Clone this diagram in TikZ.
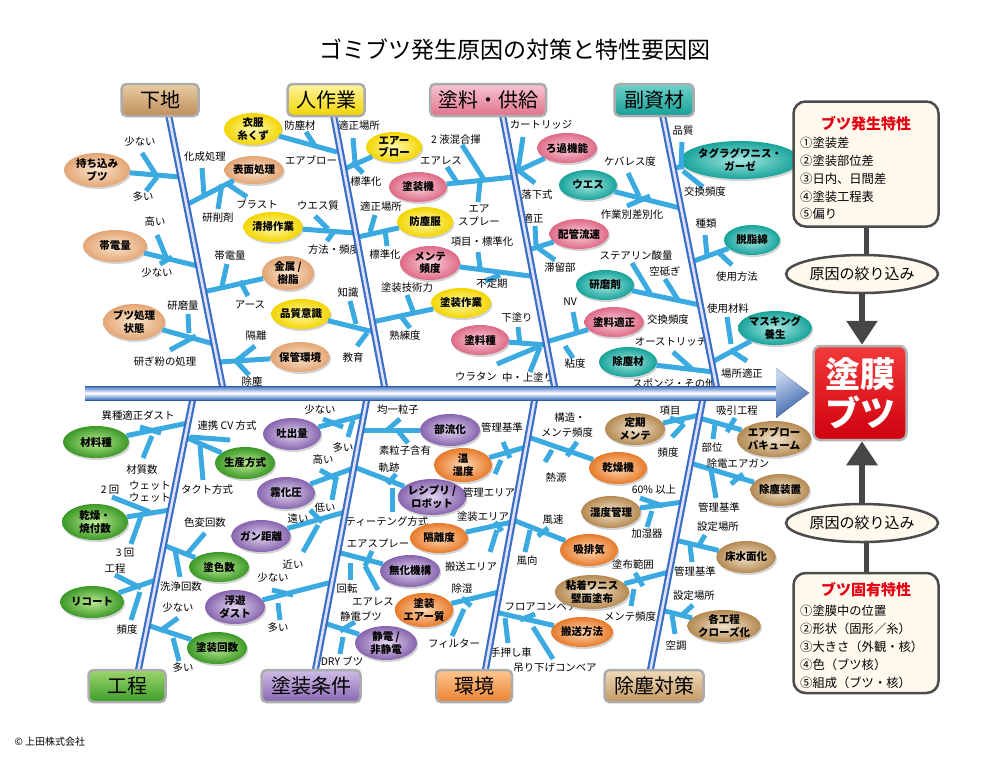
\documentclass[tikz,border=0pt]{standalone}
\usepackage{fontspec}
\setmainfont{Noto Sans CJK JP}
\usetikzlibrary{shapes.geometric,shadows,arrows.meta}
\definecolor{brc}{HTML}{3BAAE1}
\definecolor{bnc}{HTML}{3A6FC4}
\definecolor{peI}{HTML}{FDE6CF}\definecolor{peO}{HTML}{E3A574}
\definecolor{yeI}{HTML}{FFF9B0}\definecolor{yeO}{HTML}{F3D500}
\definecolor{pkI}{HTML}{FAD0DA}\definecolor{pkO}{HTML}{DE6A87}
\definecolor{teI}{HTML}{A6E8E2}\definecolor{teO}{HTML}{17A39A}
\definecolor{grI}{HTML}{BDEB95}\definecolor{grO}{HTML}{3B9826}
\definecolor{puI}{HTML}{E2D5EF}\definecolor{puO}{HTML}{8765AE}
\definecolor{orI}{HTML}{FFD9B5}\definecolor{orO}{HTML}{E77A2A}
\definecolor{brI}{HTML}{F3E3CB}\definecolor{brO}{HTML}{B48A52}
\definecolor{cream}{HTML}{FFF9EE}
\definecolor{titred}{HTML}{E50012}
\definecolor{k1a}{HTML}{E9CCA2}\definecolor{k1b}{HTML}{BF8E5B}
\definecolor{k2a}{HTML}{FFF5A0}\definecolor{k2b}{HTML}{F2D300}
\definecolor{k3a}{HTML}{F8C6D1}\definecolor{k3b}{HTML}{E0718B}
\definecolor{k4a}{HTML}{6ED2CA}\definecolor{k4b}{HTML}{169F96}
\definecolor{k5a}{HTML}{9CD56C}\definecolor{k5b}{HTML}{3E9E29}
\definecolor{k6a}{HTML}{CFBCE5}\definecolor{k6b}{HTML}{8867B2}
\definecolor{k7a}{HTML}{FFC690}\definecolor{k7b}{HTML}{EA8433}
\definecolor{k8a}{HTML}{F0DABB}\definecolor{k8b}{HTML}{C39961}
\definecolor{rda}{HTML}{F23A3A}\definecolor{rdb}{HTML}{D0000F}
\newcounter{lbc}
\newcommand{\Lb}[3]{\stepcounter{lbc}\node[lab] (lb\arabic{lbc}) at (#1,#2) {#3};}
\newcommand{\El}[7]{\node[#2, minimum width=#5pt, minimum height=#6pt] (#1) at (#3,#4) {#7};}
\def\Tk(#1)(#2){\draw[bl] (#1)--(#2);}
\tikzset{
 bl/.style={line width=5pt, draw=brc},
 lab/.style={font=\fontsize{10.4}{12}\selectfont, inner sep=0pt},
 ell/.style 2 args={ellipse, inner sep=0pt, inner color=#1, outer color=#2,
   drop shadow={shadow xshift=1.2pt, shadow yshift=-2pt, opacity=0.35},
   font=\bfseries\fontsize{10.5}{12.5}\selectfont, align=center},
 pe/.style={ell={peI}{peO}}, ye/.style={ell={yeI}{yeO}}, pk/.style={ell={pkI}{pkO}},
 te/.style={ell={teI}{teO}}, gr/.style={ell={grI}{grO}}, pu/.style={ell={puI}{puO}},
 or/.style={ell={orI}{orO}}, br/.style={ell={brI}{brO}},
 bone/.style={draw=bnc, line width=7pt, postaction={draw=white!88!blue, line width=2.6pt}},
 cat/.style 2 args={draw=gray!65, line width=2.5pt, rounded corners=5pt, top color=#1, bottom color=#2,
   minimum height=32pt, font=\fontsize{20}{22}\selectfont, inner sep=2pt},
 item/.style={anchor=west, font=\fontsize{12.3}{14}\selectfont, inner sep=0pt},
 gline/.style={draw=gray!55!black, line width=5pt},
 garr/.style={draw=gray!55!black, line width=6pt, -{Triangle[length=24pt,width=30pt]}},
 hell/.style={ellipse, draw=gray!60!black, line width=2.5pt, fill=cream, minimum width=152pt, minimum height=38pt, font=\fontsize{15}{17}\selectfont, inner sep=0pt},
 pbox/.style={draw=gray!60!black, line width=2.5pt, rounded corners=12pt, fill=cream}
}
\begin{document}
\begin{tikzpicture}[x=1pt,y=-1pt]
\useasboundingbox (0,0) rectangle (1000,756);
\node[font=\fontsize{23}{25}\selectfont] (title) at (515,50) {ゴミブツ発生原因の対策と特性要因図};

% ===== 下地 =====
\El{b1}{pe}{97}{170}{66}{34}{持ち込み\\ブツ}
\draw[bl] (b1) -- (180,177); \Tk(142,153)(156,175) \Tk(146,191)(157,177)
\Lb{140}{142}{少ない}\Lb{143}{197}{多い}
\El{b2}{pe}{115}{246}{64}{32}{帯電量}
\draw[bl] (b2) -- (198,266); \Tk(157,235)(166,257) \Tk(160,264)(172,257)
\Lb{155}{222}{高い}\Lb{157}{273}{少ない}
\El{b3}{pe}{134}{322}{62}{36}{ブツ処理\\状態}
\draw[bl] (b3) -- (214,344); \Tk(188,314)(189,333) \Tk(170,350)(196,336)
\Lb{183}{306}{研磨量}\Lb{165}{362}{研ぎ粉の処理}
\El{b4}{pe}{254}{170}{56}{28}{表面処理}
\draw[bl] (b4) -- (186,205); \Tk(202,168)(204,195) \Tk(222,184)(218,209) \Tk(226,183)(247,197)
\Lb{205}{157}{化成処理}\Lb{257}{204}{ブラスト}\Lb{218}{218}{研削剤}
\El{b5}{pe}{288}{273}{52}{34}{金属 /\\樹脂}
\draw[bl] (b5) -- (203,292); \Tk(222,286)(227,264) \Tk(240,281)(248,296)
\Lb{230}{256}{帯電量}\Lb{250}{305}{アース}
\El{b6}{pe}{300}{357}{58}{30}{保管環境}
\draw[bl] (b6) -- (219,362); \Tk(236,361)(255,346) \Tk(236,361)(249,375)
\Lb{256}{336}{隔離}\Lb{252}{382}{除塵}

% ===== 人作業 =====
\El{b7}{ye}{253}{129}{58}{30}{衣服\\糸くず}
\draw[bl] (b7) -- (337,152); \Tk(306,132)(315,146)
\Lb{300}{126}{防塵材}\Lb{311}{160}{エアブロー}
\El{b8}{ye}{273}{227}{58}{30}{清掃作業}
\draw[bl] (b8) -- (355,233); \Tk(315,216)(328,229) \Tk(327,241)(335,230)
\Lb{318}{206}{ウエス質}\Lb{334}{250}{方法・頻度}
\El{b9}{ye}{301}{314}{58}{30}{品質意識}
\draw[bl] (b9) -- (374,332); \Tk(350,301)(356,324) \Tk(357,346)(367,333)
\Lb{348}{293}{知識}\Lb{353}{358}{教育}
\El{b10}{ye}{394}{147}{56}{30}{エアー\\ブロー}
\draw[bl] (b10) -- (342,170); \Tk(353,138)(355,162) \Tk(352,162)(363,173)
\Lb{359}{126}{適正場所}\Lb{366}{182}{標準化}
\El{b11}{ye}{425}{222}{56}{30}{防塵服}
\draw[bl] (b11) -- (358,237); \Tk(375,215)(370,232) \Tk(385,230)(387,246)
\Lb{381}{207}{適正場所}\Lb{385}{255}{標準化}
\El{b12}{ye}{461}{303}{60}{30}{塗装作業}
\draw[bl] (b12) -- (372,322); \Tk(407,295)(413,311) \Tk(400,315)(410,328)
\Lb{407}{288}{塗装技術力}\Lb{405}{336}{熟練度}

% ===== 塗料・供給 =====
\El{b13}{pk}{418}{187}{58}{30}{塗装機}
\draw[bl] (b13) -- (514,177); \Tk(462,145)(485,181) \Tk(447,167)(458,184) \Tk(480,182)(478,202)
\Lb{456}{140}{2 液混合揮}\Lb{441}{161}{エアレス}\Lb{479}{209}{エア}\Lb{479}{221}{スプレー}
\El{b14}{pk}{430}{263}{60}{34}{メンテ\\頻度}
\draw[bl] (b14) -- (530,276); \Tk(478,252)(480,268) \Tk(485,281)(500,275)
\Lb{482}{242}{項目・標準化}\Lb{492}{284}{不定期}
\El{b15}{pk}{480}{340}{58}{30}{塗料種}
\draw[bl] (b15) -- (547,345); \Tk(518,327)(520,344) \Tk(497,364)(540,346) \Tk(530,372)(540,347)
\Lb{517}{318}{下塗り}\Lb{476}{376}{ウラタン}\Lb{528}{378}{中・上塗り}
\El{b16}{pk}{567}{148}{60}{30}{ろ過機能}
\draw[bl] (b16) -- (513,173); \Tk(523,137)(518,170) \Tk(518,170)(535,183)
\Lb{541}{125}{カートリッジ}\Lb{537}{195}{落下式}
\El{b17}{pk}{579}{234}{58}{30}{配管流速}
\draw[bl] (b17) -- (528,250); \Tk(535,226)(536,245) \Tk(538,248)(555,260)
\Lb{533}{218}{適正}\Lb{560}{268}{滞留部}
\El{b18}{pk}{614}{322}{58}{30}{塗料適正}
\draw[bl] (b18) -- (546,342); \Tk(573,312)(577,333) \Tk(565,346)(573,358)
\Lb{570}{302}{NV}\Lb{575}{364}{粘度}

% ===== 副資材 =====
\El{b19}{te}{588}{185}{58}{30}{ウエス}
\draw[bl] (b19) -- (680,208); \Tk(628,173)(639,196) \Tk(627,206)(650,196)
\Lb{630}{162}{ケバレス度}\Lb{632}{215}{作業別差別化}
\El{b20}{te}{605}{285}{58}{30}{研磨剤}
\draw[bl] (b20) -- (700,305); \Tk(632,263)(650,293) \Tk(665,279)(678,300)
\Lb{636}{256}{ステアリン酸量}\Lb{665}{271}{空砥ぎ}\Lb{668}{320}{交換頻度}
\El{b21}{te}{628}{362}{58}{30}{除塵材}
\draw[bl] (b21) -- (714,372); \Tk(673,352)(692,369)
\Lb{671}{342}{オーストリッチ}\Lb{674}{383}{スポンジ・その他}
\El{b22}{te}{740}{160}{80}{38}{タグラグワニス・\\ガーゼ}
\draw[bl] (b22) -- (672,168); \Tk(682,142)(681,167) \Tk(683,171)(703,187)
\Lb{683}{131}{品質}\Lb{705}{192}{交換頻度}
\El{b23}{te}{752}{240}{56}{30}{脱脂綿}
\draw[bl] (b23) -- (691,262); \Tk(705,235)(707,255) \Tk(717,251)(732,265)
\Lb{706}{224}{種類}\Lb{737}{277}{使用方法}
\El{b24}{te}{775}{328}{60}{34}{マスキング\\養生}
\draw[bl] (b24) -- (712,362); \Tk(727,317)(731,344) \Tk(730,350)(747,361)
\Lb{728}{309}{使用材料}\Lb{742}{374}{場所適正}

% ===== 工程 =====
\El{b25}{gr}{96}{442}{66}{32}{材料種}
\draw[bl] (b25) -- (188,423); \Tk(140,427)(161,433) \Tk(143,458)(152,436)
\Lb{138}{416}{異種適正ダスト}\Lb{142}{470}{材質数}
\El{b26}{gr}{95}{522}{66}{36}{乾燥・\\焼付数}
\draw[bl] (b26) -- (170,510); \Tk(112,497)(150,512) \Tk(131,544)(141,516)
\Lb{110}{490}{2 回}\Lb{150}{486}{ウェット}\Lb{150}{498}{ウェット}\Lb{125}{553}{3 回}
\El{b27}{gr}{92}{602}{64}{32}{リコート}
\draw[bl] (b27) -- (156,580); \Tk(115,575)(141,588) \Tk(131,620)(140,592)
\Lb{115}{569}{工程}\Lb{127}{630}{頻度}
\El{b28}{gr}{245}{463}{60}{32}{生産方式}
\draw[bl] (b28) -- (185,437); \Tk(190,437)(230,440) \Tk(200,446)(203,480)
\Lb{227}{426}{連携 CV 方式}\Lb{207}{490}{タクト方式}
\El{b29}{gr}{219}{567}{60}{30}{塗色数}
\draw[bl] (b29) -- (163,545); \Tk(205,533)(187,554) \Tk(175,550)(180,577)
\Lb{205}{523}{色変回数}\Lb{181}{587}{洗浄回数}
\El{b30}{gr}{217}{648}{60}{32}{塗装回数}
\draw[bl] (b30) -- (147,625); \Tk(178,618)(160,631) \Tk(173,638)(179,661)
\Lb{178}{608}{少ない}\Lb{183}{668}{多い}

% ===== 塗装条件 =====
\El{b31}{pu}{292}{434}{58}{32}{吐出量}
\draw[bl] (b31) -- (364,415); \Tk(323,419)(343,427) \Tk(348,437)(353,420)
\Lb{320}{410}{少ない}\Lb{343}{448}{多い}
\El{b32}{pu}{286}{493}{58}{32}{霧化圧}
\draw[bl] (b32) -- (354,468); \Tk(320,470)(338,480) \Tk(332,500)(336,478)
\Lb{323}{460}{高い}\Lb{325}{508}{低い}
\El{b33}{pu}{261}{536}{58}{32}{ガン距離}
\draw[bl] (b33) -- (345,512); \Tk(310,510)(322,522) \Tk(303,552)(318,525)
\Lb{298}{518}{遠い}\Lb{293}{565}{近い}
\El{b34}{pu}{235}{607}{60}{34}{浮遊\\ダスト}
\draw[bl] (b34) -- (332,582); \Tk(272,590)(293,595) \Tk(278,603)(280,620)
\Lb{273}{578}{少ない}\Lb{278}{628}{多い}
\El{b35}{pu}{450}{430}{60}{32}{部流化}
\draw[bl] (b35) -- (361,430); \Tk(400,419)(386,431) \Tk(408,443)(398,431)
\Lb{398}{410}{均一粒子}\Lb{405}{451}{素粒子含有}
\El{b36}{pu}{432}{497}{62}{36}{レシプリ /\\ロボット}
\draw[bl] (b36) -- (354,467); \Tk(396,474)(388,484) \Tk(392,488)(392,512)
\Lb{389}{468}{軌跡}\Lb{387}{522}{ティーテング方式}
\El{b37}{pu}{410}{571}{60}{32}{無化機構}
\draw[bl] (b37) -- (337,552); \Tk(372,551)(365,566) \Tk(350,563)(350,580) \Tk(365,566)(378,590)
\Lb{378}{543}{エアスプレー}\Lb{347}{589}{回転}\Lb{373}{602}{エアレス}
\El{b38}{pu}{386}{643}{62}{34}{静電 /\\非静電}
\draw[bl] (b38) -- (324,623); \Tk(355,622)(340,631) \Tk(343,637)(340,654)
\Lb{361}{616}{静電ブツ}\Lb{342}{661}{DRY ブツ}

% ===== 環境 =====
\El{b39}{or}{463}{465}{58}{34}{温\\湿度}
\draw[bl] (b39) -- (526,447); \Tk(503,442)(510,458) \Tk(495,474)(501,460)
\Lb{502}{428}{管理基準}\Lb{489}{493}{管理エリア}
\El{b40}{or}{439}{538}{58}{30}{隔離度}
\draw[bl] (b40) -- (512,522); \Tk(495,522)(502,531) \Tk(490,552)(497,530)
\Lb{483}{517}{塗装エリア}\Lb{471}{567}{搬送エリア}
\El{b41}{or}{424}{610}{58}{34}{塗装\\エアー質}
\draw[bl] (b41) -- (499,592); \Tk(462,598)(471,606) \Tk(452,636)(464,609)
\Lb{462}{589}{除湿}\Lb{454}{644}{フィルター}
\El{b42}{or}{618}{468}{58}{32}{乾燥機}
\draw[bl] (b42) -- (528,437); \Tk(577,442)(567,456) \Tk(545,462)(552,450)
\Lb{570}{418}{構造・}\Lb{567}{433}{メンテ頻度}\Lb{556}{478}{熱源}
\El{b43}{or}{589}{550}{58}{32}{吸排気}
\draw[bl] (b43) -- (513,520); \Tk(548,528)(538,536) \Tk(525,552)(530,530)
\Lb{553}{520}{風速}\Lb{527}{561}{風向}
\El{b44}{or}{582}{632}{62}{30}{搬送方法}
\draw[bl] (b44) -- (495,612); \Tk(505,618)(508,643) \Tk(533,627)(553,659) \Tk(520,620)(535,614)
\Lb{541}{607}{フロアコンベア}\Lb{511}{653}{手押し車}\Lb{555}{668}{吊り下げコンベア}

% ===== 除塵対策 =====
\El{b45}{br}{635}{429}{60}{32}{定期\\メンテ}
\draw[bl] (b45) -- (700,415); \Tk(670,418)(684,423) \Tk(672,437)(684,424)
\Lb{670}{411}{項目}\Lb{668}{453}{頻度}
\El{b46}{br}{611}{512}{58}{32}{湿度管理}
\draw[bl] (b46) -- (683,502); \Tk(640,498)(663,506) \Tk(647,527)(652,511)
\Lb{654}{490}{60\% 以上}\Lb{647}{534}{加湿器}
\El{b47}{br}{592}{592}{62}{34}{粘着ワニス\\壁面塗布}
\draw[bl] (b47) -- (669,572); \Tk(635,573)(643,586) \Tk(631,606)(634,589)
\Lb{633}{565}{塗布範囲}\Lb{630}{617}{メンテ頻度}
\El{b48}{br}{774}{439}{60}{36}{エアブロー\\バキューム}
\draw[bl] (b48) -- (699,418); \Tk(735,418)(727,432) \Tk(713,439)(715,424)
\Lb{737}{411}{吸引工程}\Lb{712}{448}{部位}
\El{b49}{br}{780}{490}{58}{32}{除塵装置}
\draw[bl] (b49) -- (690,463); \Tk(743,474)(731,484) \Tk(711,470)(716,498)
\Lb{738}{464}{除電エアガン}\Lb{719}{508}{管理基準}
\El{b50}{br}{746}{557}{58}{32}{床水面化}
\draw[bl] (b50) -- (675,540); \Tk(705,535)(698,547) \Tk(690,546)(692,562)
\Lb{718}{527}{設定場所}\Lb{695}{572}{管理基準}
\El{b51}{br}{724}{626}{58}{32}{各工程\\クローズ化}
\draw[bl] (b51) -- (661,610); \Tk(693,605)(681,616) \Tk(672,615)(675,634)
\Lb{694}{596}{設定場所}\Lb{676}{646}{空調}

% ===== bones =====
\coordinate (t1) at (168,112); \coordinate (t1e) at (223,389);
\coordinate (t2) at (333,112); \coordinate (t2e) at (385,389);
\coordinate (t3) at (502,112); \coordinate (t3e) at (555,389);
\coordinate (t4) at (662,112); \coordinate (t4e) at (717,389);
\coordinate (u1) at (193,398); \coordinate (u1e) at (138,672);
\coordinate (u2) at (367,398); \coordinate (u2e) at (315,672);
\coordinate (u3) at (535,398); \coordinate (u3e) at (485,672);
\coordinate (u4) at (703,398); \coordinate (u4e) at (650,672);
\draw[bone] (t1) -- (t1e); \draw[bone] (t2) -- (t2e); \draw[bone] (t3) -- (t3e); \draw[bone] (t4) -- (t4e);
\draw[bone] (u1) -- (u1e); \draw[bone] (u2) -- (u2e); \draw[bone] (u3) -- (u3e); \draw[bone] (u4) -- (u4e);
% spine
\fill[top color=bnc, bottom color=bnc, middle color=white] (85,386) rectangle (777,400);
\draw[bnc!80!black, line width=0.8pt] (85,386) -- (777,386) (85,400) -- (777,400);
\fill[top color=white!70!bnc, bottom color=bnc!85!black, shading angle=30] (776,368) -- (776,418) -- (809,393) -- cycle;

% ===== category boxes =====
\node[cat={k1a}{k1b}, minimum width=77pt] (k1) at (160,100) {下地};
\node[cat={k2a}{k2b}, minimum width=77pt] (k2) at (326,100) {人作業};
\node[cat={k3a}{k3b}, minimum width=116pt] (k3) at (488,100) {塗料・供給};
\node[cat={k4a}{k4b}, minimum width=79pt] (k4) at (654,100) {副資材};
\node[cat={k5a}{k5b}, minimum width=77pt] (k5) at (127,686) {工程};
\node[cat={k6a}{k6b}, minimum width=99pt] (k6) at (311,686) {塗装条件};
\node[cat={k7a}{k7b}, minimum width=76pt] (k7) at (474,686) {環境};
\node[cat={k8a}{k8b}, minimum width=99pt] (k8) at (654,686) {除塵対策};

% ===== effect and right panel =====
\node[draw=gray!60, line width=2.5pt, rounded corners=7pt, top color=rda, bottom color=rdb,
  minimum width=93pt, minimum height=94pt, text=white, font=\bfseries\fontsize{35}{39}\selectfont, align=center] (eff) at (860,393) {塗膜\\ブツ};

\node[pbox, minimum width=145pt, minimum height=125pt] (pb1) at (866,164) {};
\node[font=\bfseries\fontsize{15}{17}\selectfont, text=titred] (pt1) at (866,124) {ブツ発生特性};
\node[item] (i11) at (800,143) {①塗装差};
\node[item] (i12) at (800,161) {②塗装部位差};
\node[item] (i13) at (800,179) {③日内、日間差};
\node[item] (i14) at (800,197) {④塗装工程表};
\node[item] (i15) at (800,214) {⑤偏り};
\node[hell] (r1) at (862,274) {原因の絞り込み};
\draw[gline] (pb1.south) -- (pb1.south |- r1.north);
\draw[garr] (r1.south) -- (r1.south |- eff.north);

\node[pbox, minimum width=145pt, minimum height=120pt] (pb2) at (866,633) {};
\node[font=\bfseries\fontsize{15}{17}\selectfont, text=titred] (pt2) at (866,590) {ブツ固有特性};
\node[item] (i21) at (800,611) {①塗膜中の位置};
\node[item] (i22) at (800,629) {②形状（固形／糸）};
\node[item] (i23) at (800,647) {③大きさ（外観・核）};
\node[item] (i24) at (800,665) {④色（ブツ核）};
\node[item] (i25) at (800,683) {⑤組成（ブツ・核）};
\node[hell] (r2) at (862,523) {原因の絞り込み};
\draw[gline] (pb2.north) -- (pb2.north |- r2.south);
\draw[garr] (r2.north) -- (r2.north |- eff.south);

\node[font=\fontsize{10}{12}\selectfont, anchor=west] (copy) at (11,742) {© 上田株式会社};
\end{tikzpicture}
\end{document}
